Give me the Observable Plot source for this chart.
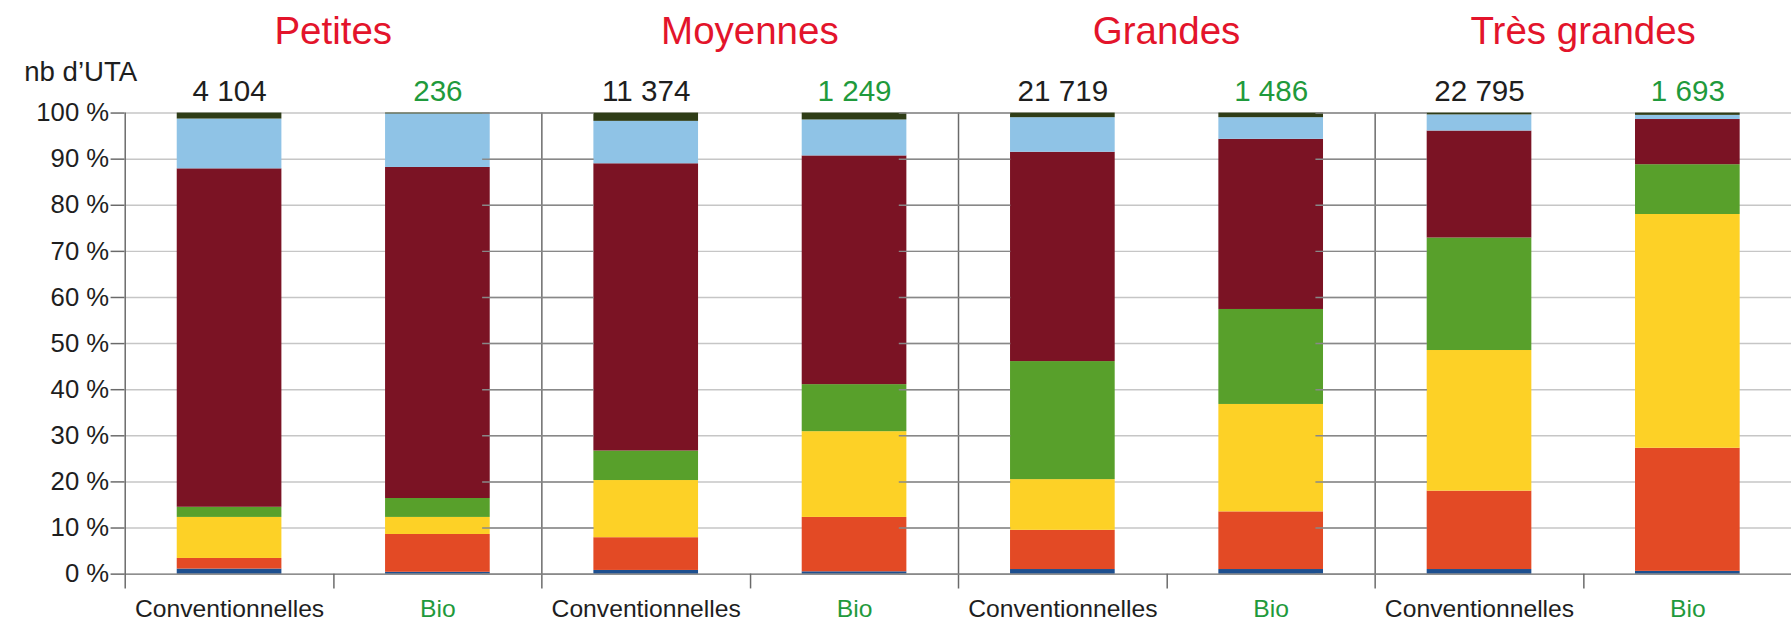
<!DOCTYPE html>
<html>
<head>
<meta charset="utf-8">
<script src="https://cdn.jsdelivr.net/npm/d3@7"></script>
<script src="https://cdn.jsdelivr.net/npm/@observablehq/plot@0.6"></script>
<style>
  html, body { margin: 0; padding: 0; background: #fff; overflow: hidden; }
  svg { display: block; }
</style>
</head>
<body>
<div id="chart"></div>
<script>
// Facets (exploitation size classes) and bar categories
const sizes = ["Petites", "Moyennes", "Grandes", "Très grandes"];
const types = ["Conventionnelles", "Bio"];

// Number of UTA shown above each bar
const utaConv = [4104, 11374, 21719, 22795];
const utaBio = [236, 1249, 1486, 1693];

// Stack segments, bottom to top
const segments = ["s1", "s2", "s3", "s4", "s5", "s6", "s7"];
const segmentColors = ["#1d4f8f", "#e34a25", "#fdd126", "#58a02b", "#7b1324", "#8fc3e6", "#2f3d17"];

// Shares (%) in order: Petites Conv, Petites Bio, Moyennes Conv, Moyennes Bio,
// Grandes Conv, Grandes Bio, Très grandes Conv, Très grandes Bio
const s1 = [1.1, 0.4, 0.8, 0.5, 1.0, 1.0, 1.0, 0.6];
const s2 = [2.3, 8.2, 7.1, 11.8, 8.5, 12.5, 17.0, 26.7];
const s3 = [8.9, 3.7, 12.4, 18.6, 11.0, 23.3, 30.5, 50.7];
const s4 = [2.2, 4.1, 6.4, 10.2, 25.6, 20.6, 24.4, 10.8];
const s5 = [73.4, 71.8, 62.3, 49.6, 45.4, 36.9, 23.2, 9.8];
const s6 = [10.8, 11.6, 9.2, 7.8, 7.5, 4.7, 3.5, 0.9];
const s7 = [1.3, 0.2, 1.8, 1.5, 1.0, 1.0, 0.4, 0.5];

const yTicks = [0, 10, 20, 30, 40, 50, 60, 70, 80, 90, 100];

// ---- build tables ----
const seriesValues = [s1, s2, s3, s4, s5, s6, s7];
const table = [];
segments.forEach((seg, k) => {
  sizes.forEach((size, i) => {
    types.forEach((type, j) => {
      table.push({segment: seg, size, type, value: seriesValues[k][i * 2 + j]});
    });
  });
});
const counts = [];
sizes.forEach((size, i) => {
  counts.push({size, type: "Conventionnelles", n: utaConv[i]});
  counts.push({size, type: "Bio", n: utaBio[i]});
});
const labels = [];
sizes.forEach(size => types.forEach(type => labels.push({size, type})));
// small y ticks at the left edge of the inner panels
const innerTicks = [];
sizes.slice(1).forEach(size => yTicks.forEach(v => innerTicks.push({size, v})));

const fr = d3.formatLocale({decimal: ",", thousands: "\u00a0", grouping: [3], currency: ["", " €"]});
const fmt = fr.format(",d");

const RED = "#e3142b";
const GREEN = "#1f9a3c";
const INK = "#1e1e1e";
const FONT = "'Liberation Sans', Arial, Helvetica, sans-serif";

const width = 1815, height = 631;
const marginLeft = 124, marginRight = 0, marginTop = 114, marginBottom = 50;
const W = (width - marginLeft - marginRight) / sizes.length; // facet width

const chart = Plot.plot({
  width, height, marginLeft, marginRight, marginTop, marginBottom,
  style: {fontFamily: FONT, background: "#fff", color: INK},
  fx: {domain: sizes, padding: 0, axis: null},
  x: {domain: types, paddingInner: 0.5, paddingOuter: 0.25, axis: null},
  y: {domain: [0, 100], axis: null},
  color: {domain: segments, range: segmentColors, legend: false},
  marks: [
    // grid
    Plot.ruleY(yTicks.filter(d => d > 0), {stroke: "#c6c6c6", strokeWidth: 1.5}),
    // stacked bars
    Plot.barY(table, {fx: "size", x: "type", y: "value", fill: "segment"}),
    // baseline
    Plot.ruleY([0], {stroke: "#6a6a6a", strokeWidth: 1.5}),
    // panel left edges (extend below baseline as ticks)
    Plot.ruleX(sizes, {fx: d => d, x: () => "Conventionnelles", dx: -W / 4, insetBottom: -15, stroke: "#6a6a6a", strokeWidth: 1.5}),
    // small ticks left of inner panels
    Plot.ruleY(innerTicks, {fx: "size", y: "v", x1: () => "Conventionnelles", x2: () => "Conventionnelles", dx: -W / 4, insetLeft: -7, stroke: "#888", strokeWidth: 1.5}),
    // middle tick between categories
    Plot.ruleX(sizes, {fx: d => d, x: () => "Conventionnelles", y1: 0, y2: 0, dx: W / 4, insetBottom: -15, stroke: "#6a6a6a", strokeWidth: 1.5}),
    // y axis
    Plot.axisY({ticks: yTicks, tickFormat: d => d + "\u00a0%", label: null, tickSize: 14, tickPadding: 2, fontSize: 26, fill: INK, stroke: "#6a6a6a", strokeWidth: 1.5}),
    // facet titles
    Plot.text(sizes, {fx: d => d, text: d => d, frameAnchor: "top", lineAnchor: "middle", dy: -82, fontSize: 39, fill: RED}),
    // UTA counts
    Plot.text(counts, {fx: "size", x: "type", frameAnchor: "top", lineAnchor: "middle", dy: -22, text: d => fmt(d.n), fontSize: 30, fill: d => d.type === "Bio" ? GREEN : INK}),
    // category labels
    Plot.text(labels, {fx: "size", x: "type", frameAnchor: "bottom", lineAnchor: "middle", dy: 35, text: "type", fontSize: 25, fill: d => d.type === "Bio" ? GREEN : INK}),
    // "nb d'UTA"
    Plot.text(["nb d\u2019UTA"], {fx: () => "Petites", text: d => d, frameAnchor: "top-left", lineAnchor: "middle", textAnchor: "start", dx: -102, dy: -41, fontSize: 28, fill: INK})
  ]
});
document.getElementById("chart").appendChild(chart);
</script>
</body>
</html>
